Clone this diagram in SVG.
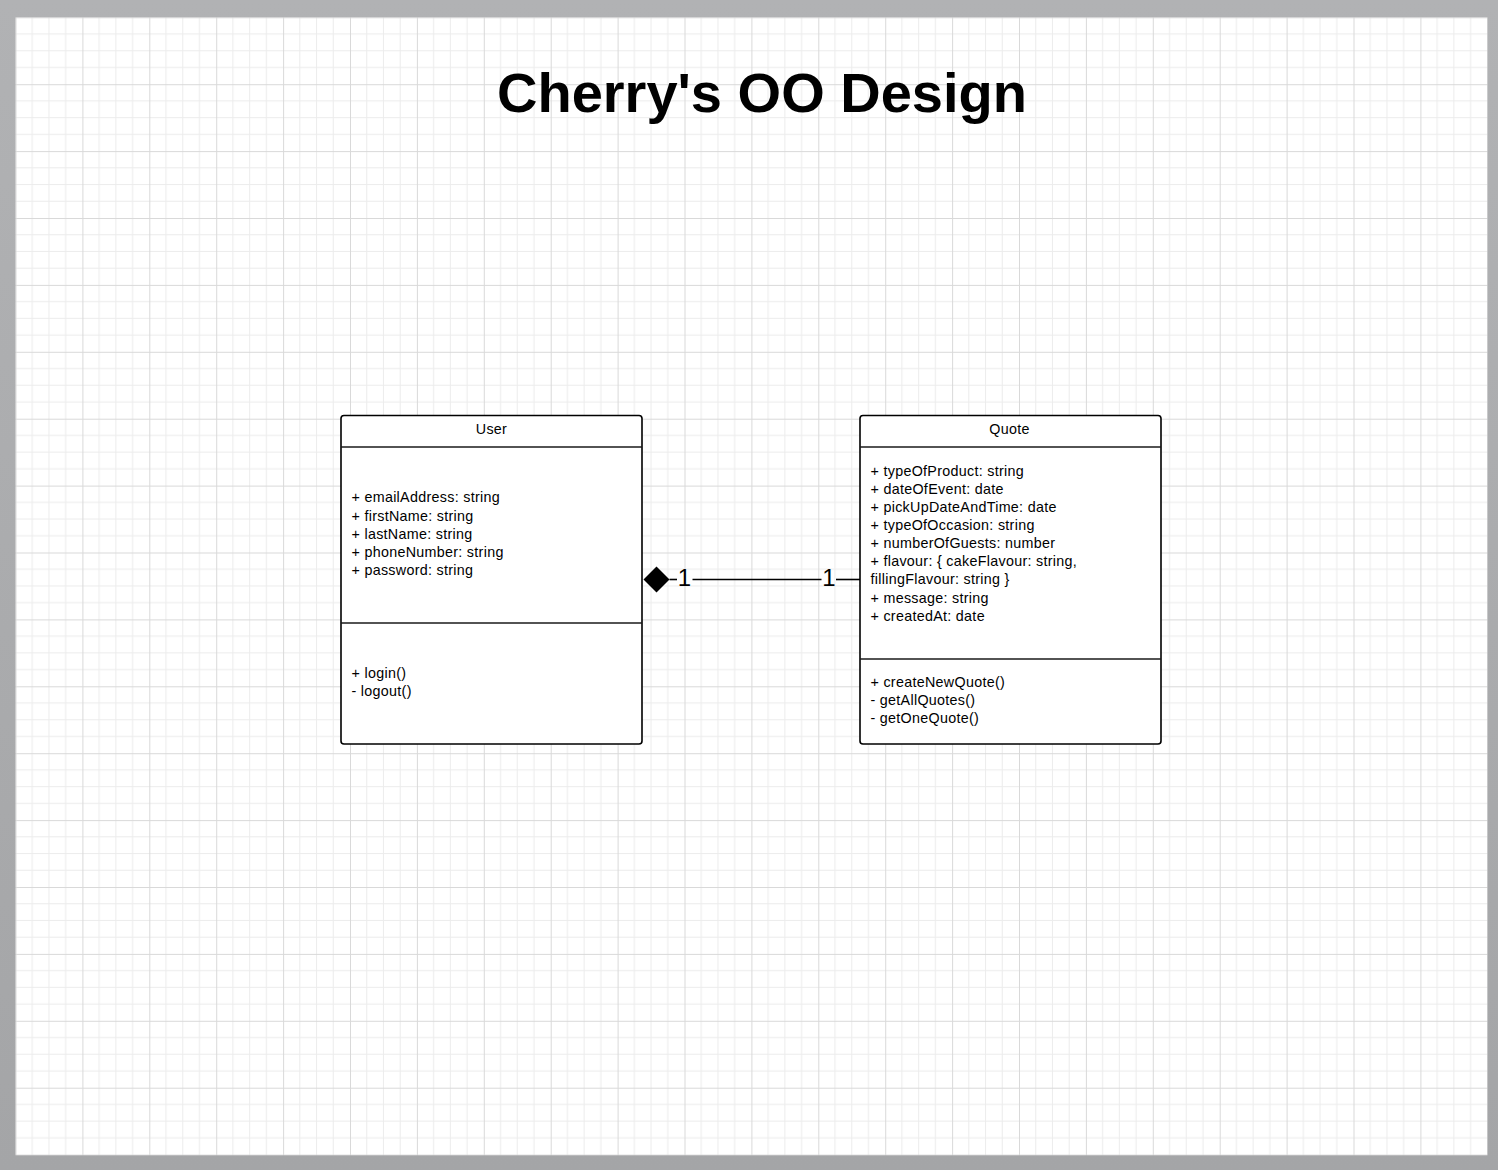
<svg xmlns="http://www.w3.org/2000/svg" width="1498" height="1170" viewBox="0 0 1498 1170">
<defs>
<linearGradient id="bgGrad" x1="0" y1="0" x2="0" y2="1">
<stop offset="0" stop-color="#b1b2b4"/>
<stop offset="1" stop-color="#a4a5a7"/>
</linearGradient>
<pattern id="grid" patternUnits="userSpaceOnUse" x="15.5" y="17.3" width="66.9" height="66.9">
<rect width="66.9" height="66.9" fill="#ffffff"/>
<g stroke="#ececec" stroke-width="1">
<line x1="16.725" y1="0" x2="16.725" y2="66.9"/>
<line x1="33.45" y1="0" x2="33.45" y2="66.9"/>
<line x1="50.175" y1="0" x2="50.175" y2="66.9"/>
<line x1="0" y1="16.725" x2="66.9" y2="16.725"/>
<line x1="0" y1="33.45" x2="66.9" y2="33.45"/>
<line x1="0" y1="50.175" x2="66.9" y2="50.175"/>
</g>
<g stroke="#d9d9d9" stroke-width="1">
<line x1="0.5" y1="0" x2="0.5" y2="66.9"/>
<line x1="0" y1="0.5" x2="66.9" y2="0.5"/>
</g>
</pattern>
</defs>
<style>
.box { fill: #ffffff; stroke: #000000; stroke-width: 1.6; }
.div { stroke: #1a1a1a; stroke-width: 1.6; }
.t { font-family: "Liberation Sans", Arial, sans-serif; font-size: 14.3px; letter-spacing: 0.3px; fill: #000000; }
.hdr { text-anchor: middle; }
.mult { font-family: "Liberation Sans", Arial, sans-serif; font-size: 24px; fill: #000000; text-anchor: middle; }
.conn { stroke: #000000; stroke-width: 1.6; fill: none; }
</style>
<rect x="0" y="0" width="1498" height="1170" fill="url(#bgGrad)"/>
<rect x="15.5" y="17.3" width="1472" height="1138" fill="url(#grid)"/>

<g id="title">
<text x="762" y="112" font-family="Liberation Sans, Arial, sans-serif" font-size="56" font-weight="bold" text-anchor="middle" fill="#000">Cherry's OO Design</text>
</g>

<g id="connectors">
<polygon points="643.5,579.5 656.5,566.5 669.5,579.5 656.5,592.5" fill="#000"/>
<line class="conn" x1="669.5" y1="579.5" x2="677" y2="579.5"/>
<line class="conn" x1="692.5" y1="579.5" x2="821.5" y2="579.5"/>
<line class="conn" x1="836" y1="579.5" x2="860" y2="579.5"/>
<text class="mult" x="684.5" y="585.5">1</text>
<text class="mult" x="829" y="585.5">1</text>
</g>

<g id="user">
<rect class="box" x="341" y="415.5" width="301" height="328.5" rx="3"/>
<line class="div" x1="341" y1="447" x2="642" y2="447"/>
<line class="div" x1="341" y1="623" x2="642" y2="623"/>
<text class="t hdr" x="491.5" y="434">User</text>
<text class="t" x="351.5" y="502.3">+ emailAddress: string</text>
<text class="t" x="351.5" y="520.5">+ firstName: string</text>
<text class="t" x="351.5" y="538.7">+ lastName: string</text>
<text class="t" x="351.5" y="556.9">+ phoneNumber: string</text>
<text class="t" x="351.5" y="575.1">+ password: string</text>
<text class="t" x="351.5" y="677.5">+ login()</text>
<text class="t" x="351.5" y="695.7">- logout()</text>
</g>

<g id="quote">
<rect class="box" x="860" y="415.5" width="301" height="328.5" rx="3"/>
<line class="div" x1="860" y1="447" x2="1161" y2="447"/>
<line class="div" x1="860" y1="659" x2="1161" y2="659"/>
<text class="t hdr" x="1009.5" y="434">Quote</text>
<text class="t" x="870.5" y="475.5">+ typeOfProduct: string</text>
<text class="t" x="870.5" y="493.7">+ dateOfEvent: date</text>
<text class="t" x="870.5" y="511.8">+ pickUpDateAndTime: date</text>
<text class="t" x="870.5" y="530">+ typeOfOccasion: string</text>
<text class="t" x="870.5" y="548.1">+ numberOfGuests: number</text>
<text class="t" x="870.5" y="566.3">+ flavour: { cakeFlavour: string,</text>
<text class="t" x="870.5" y="584.4">fillingFlavour: string }</text>
<text class="t" x="870.5" y="602.6">+ message: string</text>
<text class="t" x="870.5" y="620.7">+ createdAt: date</text>
<text class="t" x="870.5" y="686.7">+ createNewQuote()</text>
<text class="t" x="870.5" y="704.8">- getAllQuotes()</text>
<text class="t" x="870.5" y="723">- getOneQuote()</text>
</g>
</svg>
